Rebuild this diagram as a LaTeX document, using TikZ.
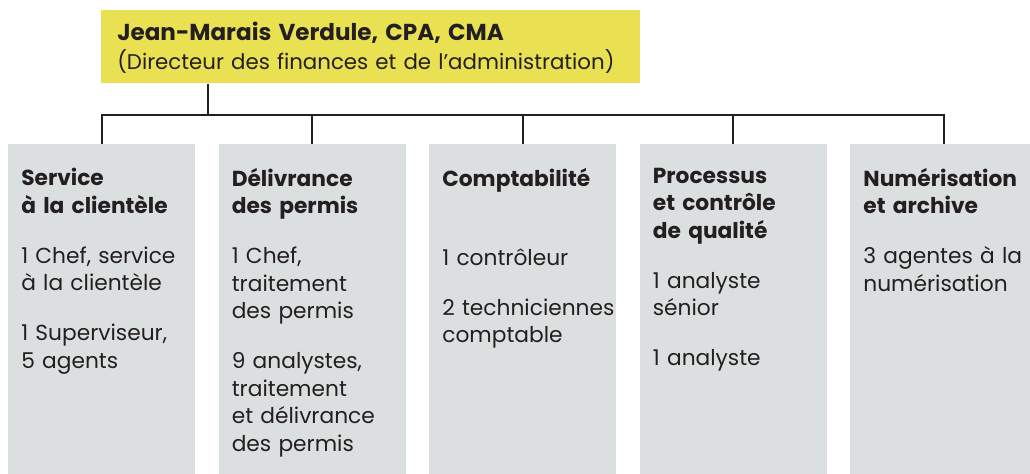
\documentclass[tikz,border=0pt]{standalone}
\usepackage{fontspec}
\setmainfont{Poppins}
\usetikzlibrary{positioning}
\definecolor{boxgrey}{RGB}{220,223,224}
\definecolor{diryellow}{RGB}{234,225,82}
\definecolor{ink}{RGB}{35,31,32}

\tikzstyle{dir} = [rectangle, fill=diryellow, minimum width=404.25pt, minimum height=54.75pt, inner sep=0pt]
\tikzstyle{unit} = [rectangle, fill=boxgrey, minimum width=140.25pt, minimum height=247.5pt, inner sep=0pt]
\tikzstyle{txt} = [inner sep=0pt, text width=150pt, align=left, text=ink, font=\fontsize{16.3}{20.6}\selectfont]
\tikzstyle{link} = [draw=ink, line width=1.5pt]

\begin{document}
\begin{tikzpicture}[node distance=17.25pt]
\clip (0,0) rectangle (772.5pt,-355.5pt);

\node[dir, anchor=north west] (Dir) at (75.75pt,-7.5pt) {};
\node[txt, text width=400pt, font=\fontsize{16}{21.75}\selectfont, below right=9pt and 12pt] (Dirt) at (Dir.north west) {{\fontsize{17.3}{21.75}\selectfont\bfseries Jean-Marais Verdule, CPA, CMA}\\(Directeur des finances et de l’administration)};

\node[unit, anchor=north west] (SC) at (6pt,-108pt) {};
\node[unit] (DP) [right=of SC] {};
\node[unit] (C) [right=of DP] {};
\node[unit] (PQ) [right=of C] {};
\node[unit] (NA) [right=of PQ] {};

\node[txt, below right=18pt and 9.75pt] (SCt) at (SC.north west) {\textbf{Service\\à la clientèle}\\[16.9pt]1 Chef, service\\à la clientèle\\[16.9pt]1 Superviseur,\\5 agents};
\node[txt, below right=18pt and 9.75pt] (DPt) at (DP.north west) {\textbf{Délivrance\\des permis}\\[16.9pt]1 Chef,\\traitement\\des permis\\[16.9pt]9 analystes,\\traitement\\et délivrance\\des permis};
\node[txt, below right=18pt and 9.75pt] (Ct) at (C.north west) {\textbf{Comptabilité}\\[38.6pt]1 contrôleur\\[16.9pt]2 techniciennes\\comptable};
\node[txt, below right=18pt and 9.75pt] (PQt) at (PQ.north west) {\textbf{Processus\\et contrôle\\de qualité}\\[16.9pt]1 analyste\\sénior\\[16.9pt]1 analyste};
\node[txt, below right=18pt and 9.75pt] (NAt) at (NA.north west) {\textbf{Numérisation\\et archive}\\[16.9pt]3 agentes à la\\numérisation};

\coordinate (top) at ([xshift=80.25pt]Dir.south west);
\coordinate (bus) at ([yshift=-23.25pt]top);
\draw[link] (top) -- (bus);
\foreach \n in {SC,DP,C,PQ,NA}
    \draw[link] (bus) -| (\n.north);

\end{tikzpicture}
\end{document}
